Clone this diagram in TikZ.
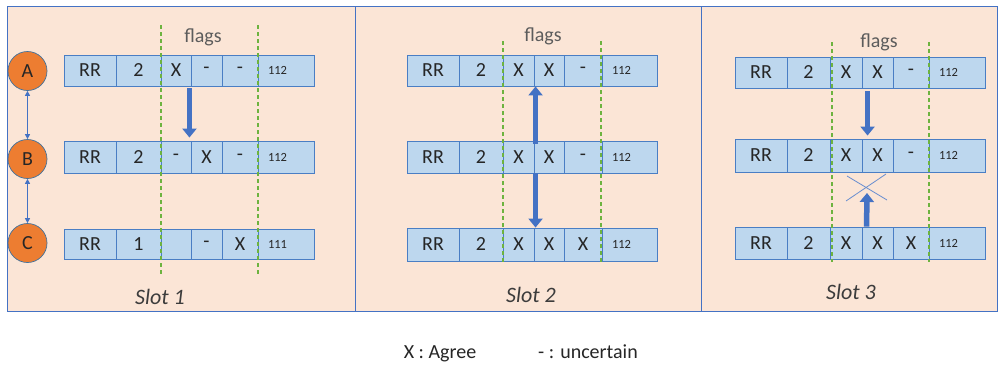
\documentclass[tikz,border=0pt]{standalone}
\usepackage{fontspec}
\setmainfont{Carlito}
\usetikzlibrary{arrows.meta}

\definecolor{peach}{HTML}{FBE5D6}
\definecolor{frameblue}{HTML}{4472C4}
\definecolor{cellblue}{HTML}{BDD7EE}
\definecolor{celledge}{HTML}{4A7EC4}
\definecolor{nodeorange}{HTML}{ED7D31}
\definecolor{nodeedge}{HTML}{41719C}
\definecolor{flaggreen}{HTML}{6DB33F}
\definecolor{ink}{HTML}{262626}

\tikzset{
  panel/.style={fill=peach, draw=frameblue, line width=0.8pt},
  cell/.style={draw=celledge, fill=cellblue, line width=0.9pt, inner sep=0pt,
    text=ink, font=\fontsize{20}{20}\selectfont},
  numcell/.style={cell, font=\fontsize{12.5}{13}\selectfont, align=left},
  member/.style={circle, fill=nodeorange, draw=nodeedge, line width=0.7pt,
    minimum size=39pt, inner sep=0pt, text=ink, font=\fontsize{20}{20}\selectfont},
  link/.style={draw=frameblue, line width=0.8pt, {Triangle[length=5pt,width=5pt]}-{Triangle[length=5pt,width=5pt]}},
  push/.style={draw=frameblue, line width=5.5pt, -{Triangle[length=9pt,width=14pt]}},
  flagline/.style={draw=flaggreen, line width=1.2pt, dash pattern=on 4pt off 3pt},
  flagtext/.style={text=ink!75, font=\fontsize{20}{20}\selectfont},
  slottext/.style={text=ink!90, font=\fontsize{22}{22}\selectfont\itshape},
  legend/.style={text=ink, anchor=base, font=\fontsize{20}{20}\selectfont},
  crossmark/.style={draw=frameblue!80, line width=0.8pt}
}

% One register row: #1 name, #2 top, #3 bottom, #4..#9 field texts.
% Field borders are taken from \xa..\xg of the current slot.
\newcommand\cellrow[9]{%
  \pgfmathsetmacro\ymid{(#2+#3)/2}%
  \pgfmathsetmacro\hh{#3-#2}%
  \node[cell, minimum width={(\xb-\xa)*1pt}, minimum height=\hh pt] (#1-1) at ({(\xa+\xb)/2},\ymid) {#4};
  \node[cell, minimum width={(\xc-\xb)*1pt}, minimum height=\hh pt] (#1-2) at ({(\xb+\xc)/2},\ymid) {#5};
  \node[cell, minimum width={(\xd-\xc)*1pt}, minimum height=\hh pt] (#1-3) at ({(\xc+\xd)/2},\ymid) {#6};
  \node[cell, minimum width={(\xe-\xd)*1pt}, minimum height=\hh pt] (#1-4) at ({(\xd+\xe)/2},\ymid) {#7};
  \node[cell, minimum width={(\xf-\xe)*1pt}, minimum height=\hh pt] (#1-5) at ({(\xe+\xf)/2},\ymid) {#8};
  \pgfmathsetmacro\tw{\xg-\xf-20}%
  \node[numcell, minimum width={(\xg-\xf)*1pt}, minimum height=\hh pt, text width=\tw pt] (#1-6) at ({(\xf+\xg)/2},\ymid) {#9};
}

\begin{document}
\begin{tikzpicture}[x=1pt, y=-1pt]
  \useasboundingbox[fill=white] (0,0) rectangle (998,367);

  % slot panels
  \path[panel] (7,6) rectangle (355,311);
  \path[panel] (355,6) rectangle (701,311);
  \path[panel] (701,6) rectangle (997,311);

  % ---------------- Slot 1 ----------------
  \def\xa{64}\def\xb{116}\def\xc{161}\def\xd{191}\def\xe{222}\def\xf{258}\def\xg{314}
  \cellrow{a1}{55}{86}{RR}{2}{X}{-}{-}{112}
  \cellrow{b1}{141}{173}{RR}{2}{-}{X}{-}{112}
  \cellrow{c1}{229}{259}{RR}{1}{}{-}{X}{111}
  \coordinate (s1f1top) at (161,25);  \coordinate (s1f1bot) at (161,276);
  \coordinate (s1f2top) at (258,25);  \coordinate (s1f2bot) at (258,276);
  \path[flagline] (s1f1top) -- (s1f1bot);
  \path[flagline] (s1f2top) -- (s1f2bot);
  \node[flagtext] (flags1) at (203,37) {flags};
  \node[slottext] (slot1) at (160,297) {Slot 1};
  \path[push] ([xshift=-2pt,yshift=-2pt]a1-3.south east) -- ([xshift=-2pt,yshift=3pt]b1-3.north east);

  \node[member] (A) at (27.5,71) {A};
  \node[member] (B) at (27.5,159) {B};
  \node[member] (C) at (27.5,243) {C};
  \path[link] (A) -- (B);
  \path[link] (B) -- (C);

  % ---------------- Slot 2 ----------------
  \def\xa{407}\def\xb{459}\def\xc{503}\def\xd{534}\def\xe{564}\def\xf{602}\def\xg{657}
  \cellrow{a2}{55}{86}{RR}{2}{X}{X}{-}{112}
  \cellrow{b2}{141}{173}{RR}{2}{X}{X}{-}{112}
  \cellrow{c2}{228}{261}{RR}{2}{X}{X}{X}{112}
  \coordinate (s2f1top) at (503,41);  \coordinate (s2f1bot) at (503,262);
  \coordinate (s2f2top) at (601,41);  \coordinate (s2f2bot) at (601,262);
  \path[flagline] (s2f1top) -- (s2f1bot);
  \path[flagline] (s2f2top) -- (s2f2bot);
  \node[flagtext] (flags2) at (543,36) {flags};
  \node[slottext] (slot2) at (531,295) {Slot 2};
  \path[push] ([xshift=2pt,yshift=-3pt]b2-4.north west) -- ([xshift=2pt]a2-4.south west);
  \path[push] ([xshift=2pt]b2-4.south west) -- ([xshift=2pt]c2-4.north west);

  % ---------------- Slot 3 ----------------
  \def\xa{735}\def\xb{787}\def\xc{830}\def\xd{862}\def\xe{893}\def\xf{929}\def\xg{985}
  \cellrow{a3}{57}{88}{RR}{2}{X}{X}{-}{112}
  \cellrow{b3}{139}{172}{RR}{2}{X}{X}{-}{112}
  \cellrow{c3}{227}{259}{RR}{2}{X}{X}{X}{112}
  \coordinate (s3f1top) at (832,42);  \coordinate (s3f1bot) at (832,262);
  \coordinate (s3f2top) at (929,42);  \coordinate (s3f2bot) at (929,262);
  \path[flagline] (s3f1top) -- (s3f1bot);
  \path[flagline] (s3f2top) -- (s3f2bot);
  \node[flagtext] (flags3) at (879,42) {flags};
  \node[slottext] (slot3) at (851,292) {Slot 3};
  \path[push] ([xshift=6pt,yshift=-3pt]a3-4.south west) -- ([xshift=6pt,yshift=3pt]b3-4.north west);
  \coordinate (blocked) at (867,193);
  \path[push] ([xshift=5pt]c3-4.north west) -- (blocked);
  % blocked propagation
  \coordinate (x1) at (847,176); \coordinate (x2) at (887,200);
  \coordinate (x3) at (846,201); \coordinate (x4) at (886,174);
  \path[crossmark] (x1) -- (x2);
  \path[crossmark] (x3) -- (x4);

  % legend
  \node[legend] (agree) at (440,358) {X : Agree};
  \node[legend] (unsure) at (588,358) {- : uncertain};
\end{tikzpicture}
\end{document}
